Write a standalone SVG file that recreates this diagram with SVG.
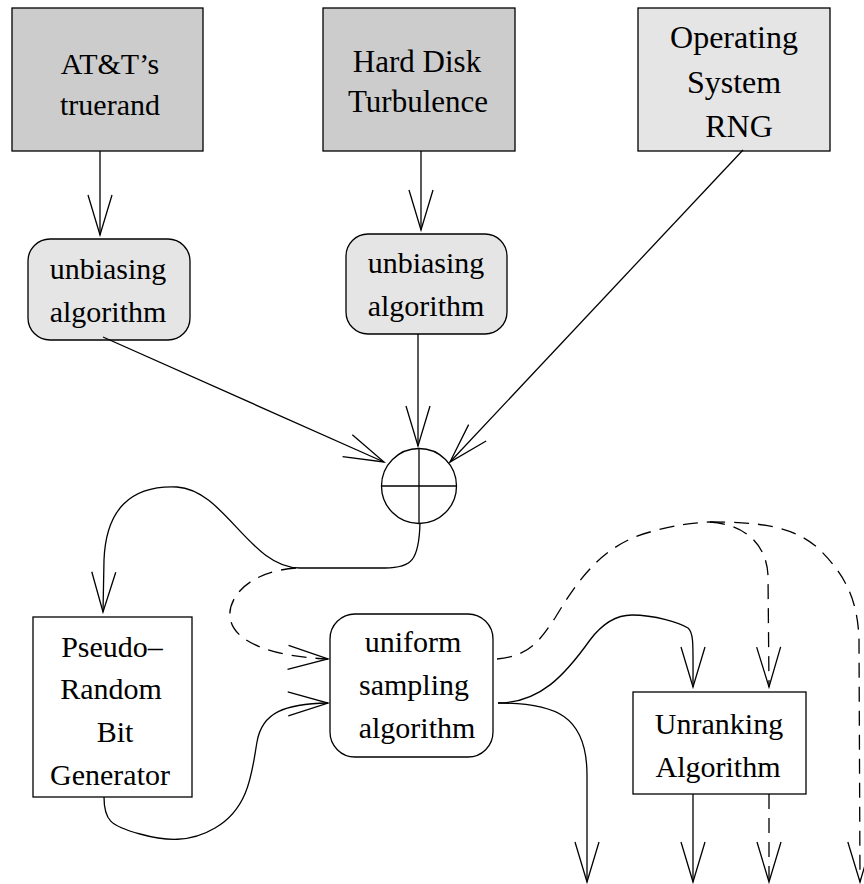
<svg xmlns="http://www.w3.org/2000/svg" width="864" height="884" viewBox="0 0 864 884">
<style>
.box{stroke:#000;stroke-width:1.3}
.dark{fill:#cccccc}
.light{fill:#e5e5e5}
.white{fill:#ffffff}
text{font-family:"Liberation Serif","Times New Roman",serif;font-size:30px;fill:#000;text-anchor:middle}
.c{fill:none;stroke:#000;stroke-width:1.3}
.d{stroke-dasharray:15 9}
</style>
<defs>
<marker id="ah" markerUnits="userSpaceOnUse" markerWidth="50" markerHeight="30" viewBox="-45 -15 50 30" refX="0" refY="0" orient="auto" overflow="visible">
<path d="M -40 -12 L 0 0 L -40 12" fill="none" stroke="#000" stroke-width="1.3"/>
</marker>
</defs>
<g id="att">
<rect class="box dark" x="12" y="8" width="191" height="143"/>
<text x="110" y="74">AT&amp;T’s</text>
<text x="110" y="115">truerand</text>
</g>
<g id="hdd">
<rect class="box dark" x="323" y="8" width="192" height="143"/>
<text x="417" y="72" style="font-size:31px">Hard Disk</text>
<text x="418" y="112" style="font-size:31px">Turbulence</text>
</g>
<g id="osrng">
<rect class="box light" x="638" y="8" width="192" height="143"/>
<text x="734" y="48" style="font-size:32px">Operating</text>
<text x="734" y="93" style="font-size:32px">System</text>
<text x="739" y="137" style="font-size:32px">RNG</text>
</g>
<g id="unbias1">
<rect class="box light" x="28" y="239" width="162" height="101" rx="22"/>
<text x="108" y="279">unbiasing</text>
<text x="108" y="322">algorithm</text>
</g>
<g id="unbias2">
<rect class="box light" x="346" y="234" width="161" height="100" rx="22"/>
<text x="426" y="273">unbiasing</text>
<text x="426" y="316">algorithm</text>
</g>
<g id="xor">
<circle class="c" cx="419" cy="486" r="37.5"/>
<line class="c" x1="381.5" y1="486" x2="456.5" y2="486"/>
<line class="c" x1="419" y1="448.5" x2="419" y2="523.5"/>
</g>
<g id="prbg">
<rect class="box white" x="33" y="617" width="159" height="180"/>
<text x="112" y="657">Pseudo–</text>
<text x="111" y="699">Random</text>
<text x="115" y="742">Bit</text>
<text x="110" y="785">Generator</text>
</g>
<g id="uniform">
<rect class="box white" x="330" y="614" width="163" height="143" rx="25"/>
<text x="413" y="652">uniform</text>
<text x="414" y="695">sampling</text>
<text x="417" y="738">algorithm</text>
</g>
<g id="unrank">
<rect class="box white" x="633" y="692" width="173" height="102"/>
<text x="719" y="734">Unranking</text>
<text x="718" y="777">Algorithm</text>
</g>
<g id="connectors">
<path class="c" d="M 100 151 L 100 235" marker-end="url(#ah)"/>
<path class="c" d="M 421 151 L 421 230" marker-end="url(#ah)"/>
<path class="c" d="M 103 337 L 384 462" marker-end="url(#ah)"/>
<path class="c" d="M 418 334 L 418 446" marker-end="url(#ah)"/>
<path class="c" d="M 743 150 L 450 462" marker-end="url(#ah)"/>
<path class="c" d="M 420 523 C 419 560, 412 568, 385 568 L 300 568 C 250 568, 225 490, 177 487 C 130 485, 106 510, 104 560 L 103 612" marker-end="url(#ah)"/>
<path class="c d" d="M 296 568 C 245 572, 228 600, 230 617 C 233 645, 280 657, 328 659" marker-end="url(#ah)"/>
<path class="c" d="M 104 797 C 104 820, 110 826, 140 834 C 165 841, 190 843, 215 828 C 250 808, 252 770, 257 742 C 262 712, 285 704, 328 703" marker-end="url(#ah)"/>
<path class="c" d="M 498 703 C 540 703, 565 675, 590 640 C 605 620, 620 615, 632 615 C 655 615, 680 623, 688 628 C 694 633, 693 645, 693 687" marker-end="url(#ah)"/>
<path class="c" d="M 498 703 C 555 703, 587 715, 587 775 L 587 882" marker-end="url(#ah)"/>
<path class="c d" d="M 497 659 C 530 656, 540 640, 555 618 C 575 585, 600 545, 650 532 C 675 525, 690 523, 710 522"/>
<path class="c d" d="M 710 522 C 740 524, 766 540, 768 575 L 769 687" marker-end="url(#ah)"/>
<path class="c d" d="M 710 522 C 760 522, 795 526, 820 550 C 845 575, 858 600, 859 640 L 860 882" marker-end="url(#ah)"/>
<path class="c" d="M 693 794 L 693 882" marker-end="url(#ah)"/>
<path class="c d" d="M 769 794 L 769 882" marker-end="url(#ah)"/>
</g>
</svg>
